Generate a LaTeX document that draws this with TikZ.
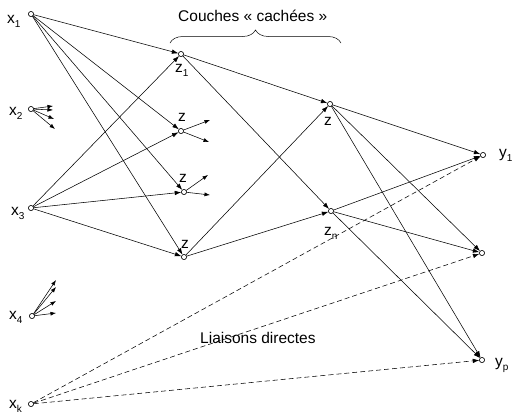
\documentclass[tikz,border=0pt]{standalone}
\usepackage{fontspec}
\setmainfont{Liberation Sans}
\usetikzlibrary{arrows.meta,decorations.pathreplacing}
% lowered index after a unit name
\newcommand{\lowidx}[1]{\raisebox{-4pt}{\fontsize{10}{10}\selectfont #1}}
\begin{document}
\begin{tikzpicture}[x=1pt,y=-1pt,
  unit/.style={circle,draw,fill=white,inner sep=0pt,minimum size=5pt,line width=0.5pt},
  lab/.style={font=\fontsize{15.5}{17}\selectfont,inner sep=0pt,anchor=base west},
  link/.style={line width=0.55pt,-{Latex[length=6.5pt,width=4.5pt]}},
  direct/.style={link,dash pattern=on 5pt off 3pt},
  stub/.style={line width=0.55pt,-{Latex[length=5.5pt,width=4pt]}}]
\useasboundingbox (0,0) rectangle (512,413);

% inputs
\node[unit] (x1) at (31,14) {};
\node[unit] (x2) at (31,109) {};
\node[unit] (x3) at (31,208) {};
\node[unit] (x4) at (32,316) {};
\node[unit] (xk) at (31,404) {};
% first hidden layer
\node[unit] (z1) at (181,54) {};
\node[unit] (z2) at (181,131) {};
\node[unit] (z3) at (184,192) {};
\node[unit] (z4) at (184,257) {};
% second hidden layer
\node[unit] (za) at (330,104) {};
\node[unit] (zn) at (331,211) {};
% outputs
\node[unit] (y1) at (483,155) {};
\node[unit] (y2) at (482,253) {};
\node[unit] (yp) at (482,360) {};

% labels
\node[lab] (lx1) at (7,23) {x\lowidx{1}};
\node[lab] (lx2) at (9,115) {x\lowidx{2}};
\node[lab] (lx3) at (11,215) {x\lowidx{3}};
\node[lab] (lx4) at (9,319) {x\lowidx{4}};
\node[lab] (lxk) at (9,408) {x\lowidx{k}};
\node[lab] (lz1) at (175,72) {z\lowidx{1}};
\node[lab] (lz2) at (178,121) {z};
\node[lab] (lz3) at (179,182) {z};
\node[lab] (lz4) at (181,248) {z};
\node[lab] (lza) at (324,125) {z};
\node[lab] (lzn) at (324,235) {z\lowidx{n}};
\node[lab] (ly1) at (499,157) {y\lowidx{1}};
\node[lab] (lyp) at (495,366) {y\lowidx{p}};
\node[lab] (hidden) at (178,21) {Couches « cachées »};
\node[lab] (direct) at (200,343) {Liaisons directes};

% brace over the hidden layers
\coordinate (bl) at (170,43);
\coordinate (br) at (341,43);
\draw[line width=0.5pt,decorate,decoration={brace,amplitude=13pt,aspect=0.5}] (bl) -- (br);

% free ends of the partial fans
\coordinate (a1) at (53,106);
\coordinate (a2) at (53,110);
\coordinate (a3) at (54,119);
\coordinate (a4) at (55,129);
\coordinate (b1) at (56,280);
\coordinate (b2) at (56,287);
\coordinate (b3) at (56,301);
\coordinate (b4) at (56,313);
\coordinate (c1) at (210,120);
\coordinate (c2) at (209,142);
\coordinate (d1) at (208,175);
\coordinate (d2) at (210,195);

% input to first hidden layer
\foreach \t in {z1,z2,z3,z4} {
  \draw[link] (x1) -- (\t);
  \draw[link] (x3) -- (\t);
}
\foreach \t in {a1,a2,a3,a4} \draw[stub] (x2) -- (\t);
\foreach \t in {b1,b2,b3,b4} \draw[stub] (x4) -- (\t);

% first to second hidden layer
\foreach \s in {z1,z4} {
  \draw[link] (\s) -- (za);
  \draw[link] (\s) -- (zn);
}
\foreach \t in {c1,c2} \draw[stub] (z2) -- (\t);
\foreach \t in {d1,d2} \draw[stub] (z3) -- (\t);

% second hidden layer to outputs
\foreach \t in {y1,y2,yp} {
  \draw[link] (za) -- (\t);
  \draw[link] (zn) -- (\t);
  \draw[direct] (xk) -- (\t);
}

% redraw units above the lines
\foreach \n in {x1,x2,x3,x4,xk,z1,z2,z3,z4,za,zn,y1,y2,yp}
  \draw[fill=white,line width=0.5pt] (\n) circle (2.5pt);
\end{tikzpicture}
\end{document}
